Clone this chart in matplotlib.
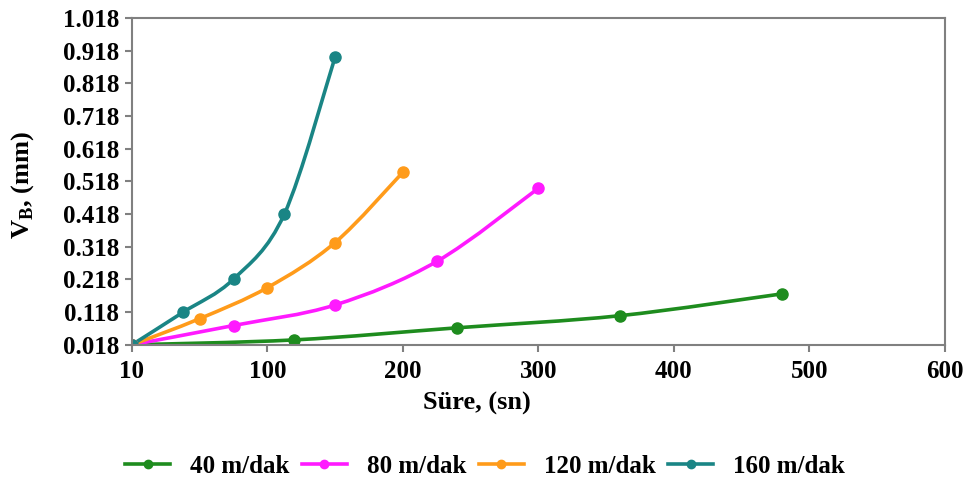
import numpy as np
import matplotlib.pyplot as plt
from matplotlib.path import Path
from matplotlib.patches import PathPatch
from matplotlib.lines import Line2D

plt.rcParams['font.family'] = ['Liberation Serif', 'DejaVu Serif']
plt.rcParams['font.weight'] = 'bold'
plt.rcParams['mathtext.fontset'] = 'custom'
plt.rcParams['mathtext.bf'] = 'Liberation Serif:bold'
plt.rcParams['mathtext.rm'] = 'Liberation Serif:bold'

# data (x in seconds, y = VB in mm)
x_40 = [0, 120, 240, 360, 480]
y_40 = [0.018, 0.033, 0.070, 0.107, 0.174]
x_80 = [0, 75, 150, 225, 300]
y_80 = [0.018, 0.077, 0.140, 0.273, 0.497]
x_120 = [0, 50, 100, 150, 200]
y_120 = [0.018, 0.098, 0.193, 0.331, 0.546]
x_160 = [0, 37.5, 75, 112.5, 150]
y_160 = [0.018, 0.117, 0.219, 0.418, 0.899]

labels = ['40 m/dak', '80 m/dak', '120 m/dak', '160 m/dak']
colors = ['#1e8c1e', '#ff1aff', '#ff9b1a', '#1a8585']
xticks = [0, 100, 200, 300, 400, 500, 600]
xtick_labels = ['10', '100', '200', '300', '400', '500', '600']
yticks = [0.018, 0.118, 0.218, 0.318, 0.418, 0.518, 0.618, 0.718, 0.818, 0.918, 1.018]


def smooth_path(xs, ys):
    # Excel-like smoothed line: cubic Bezier segments through the points
    p = np.column_stack([xs, ys]).astype(float)
    verts = [p[0]]
    codes = [Path.MOVETO]
    n = len(p)
    for i in range(n - 1):
        p0 = p[i - 1] if i > 0 else p[i]
        p1 = p[i]
        p2 = p[i + 1]
        p3 = p[i + 2] if i + 2 < n else p[i + 1]
        c1 = p1 + (p2 - p0) / 6.0
        c2 = p2 - (p3 - p1) / 6.0
        verts += [c1, c2, p2]
        codes += [Path.CURVE4] * 3
    return Path(verts, codes)


fig = plt.figure(figsize=(9.7, 4.87), dpi=100)
ax = fig.add_axes([0.136, 0.292, 0.838, 0.671])

series = [(x_40, y_40), (x_80, y_80), (x_120, y_120), (x_160, y_160)]
handles = []
for (xs, ys), lab, c in zip(series, labels, colors):
    patch = PathPatch(smooth_path(xs, ys), facecolor='none', edgecolor=c, lw=2.6,
                      transform=ax.transData)
    ax.add_patch(patch)
    ax.plot(xs, ys, linestyle='none', marker='o', markersize=8, color=c)
    handles.append(Line2D([], [], color=c, lw=2.6, marker='o', markersize=6))

ax.set_xlim(0, 600)
ax.set_ylim(0.018, 1.018)
ax.set_xticks(xticks)
ax.set_xticklabels(xtick_labels)
ax.set_yticks(yticks)
ax.set_yticklabels([f'{v:.3f}' for v in yticks])
ax.tick_params(labelsize=18, color='#808080', length=5, width=1.5, direction='out')
ax.tick_params(axis='x', pad=6)
ax.tick_params(axis='y', pad=4)
for s in ax.spines.values():
    s.set_color('#808080')
    s.set_linewidth(1.5)

ax.set_xlabel('Süre, (sn)', fontsize=19, fontweight='bold')
ax.xaxis.set_label_coords(0.424, -0.145)
ax.set_ylabel(r'V$_\mathbf{B}$, (mm)', fontsize=19, fontweight='bold')
ax.yaxis.set_label_coords(-0.118, 0.49)

fig.legend(handles, labels, loc='center', bbox_to_anchor=(0.5, 0.043), ncol=4,
           frameon=False, fontsize=18, handlelength=1.8, columnspacing=0.5,
           handletextpad=0.8)

fig.savefig('out.png', dpi=100)
